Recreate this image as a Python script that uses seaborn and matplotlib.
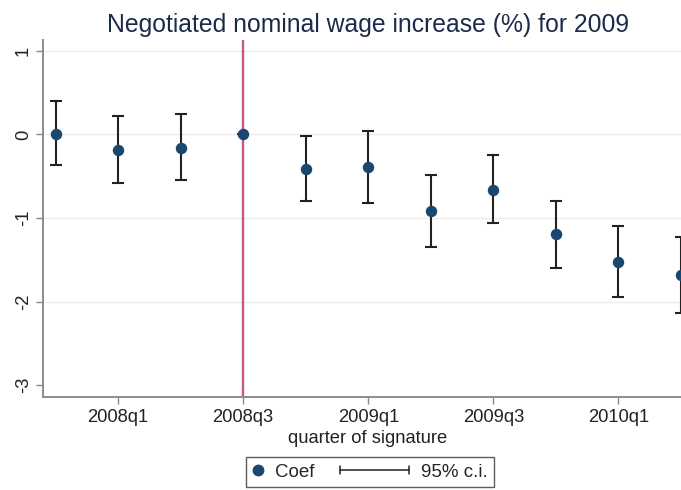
import pandas as pd
import matplotlib
matplotlib.use('Agg')
import matplotlib.pyplot as plt
from matplotlib.lines import Line2D
from matplotlib.legend_handler import HandlerBase
import seaborn as sns
import numpy as np

# quarter of signature and estimated coefficients with 95% c.i.
quarters = ['2007q4', '2008q1', '2008q2', '2008q3', '2008q4', '2009q1',
            '2009q2', '2009q3', '2009q4', '2010q1', '2010q2']
coef = [0.01, -0.18, -0.16, 0.00, -0.41, -0.39, -0.91, -0.66, -1.19, -1.52, -1.68]
ci_hi = [0.40, 0.22, 0.24, 0.00, -0.02, 0.04, -0.48, -0.25, -0.79, -1.09, -1.23]
ci_lo = [-0.37, -0.58, -0.55, 0.00, -0.80, -0.82, -1.34, -1.06, -1.60, -1.94, -2.13]
tick_quarters = ['2008q1', '2008q3', '2009q1', '2009q3', '2010q1']
ref_quarter = '2008q3'

df = pd.DataFrame({'quarter': quarters, 'coef': coef, 'lo': ci_lo, 'hi': ci_hi})
df['pos'] = np.arange(len(df))

sns.set_style('white')
plt.rcParams['font.family'] = ['Liberation Sans', 'DejaVu Sans']

navy = '#1a476f'
fig = plt.figure(figsize=(6.81, 4.90), dpi=100)
ax = fig.add_axes([43/681, 93/490, 1 - 43/681, (397-40)/490])

# reference quarter line
ref_pos = quarters.index(ref_quarter)
ax.axvline(ref_pos, color='#c25a86', lw=1.7, zorder=1)

# confidence intervals
ax.errorbar(df['pos'], df['coef'],
            yerr=[df['coef'] - df['lo'], df['hi'] - df['coef']],
            fmt='none', ecolor='#222222', elinewidth=1.5, capsize=4.5,
            capthick=1.5, zorder=2)
sns.scatterplot(x='pos', y='coef', data=df, color=navy, s=68, edgecolor=navy,
                linewidth=0, zorder=3, ax=ax, legend=False)

ax.set_xlim(-0.2, 10.0)
ax.set_ylim(-3.14, 1.13)
ax.set_xticks([quarters.index(q) for q in tick_quarters])
ax.set_xticklabels(tick_quarters)
ax.set_yticks([1, 0, -1, -2, -3])
ax.set_yticklabels(['1', '0', '-1', '-2', '-3'], rotation=90, va='center')
ax.set_xlabel('')
ax.set_ylabel('')
ax.tick_params(axis='both', direction='out', length=5, width=1, color='#888888',
               labelsize=13.2, labelcolor='#222222')
ax.tick_params(axis='x', bottom=True, pad=3.5)
ax.tick_params(axis='y', left=True, pad=3)

ax.grid(axis='y', color='#ececec', lw=1)
ax.get_ygridlines()[-1].set_visible(False)
ax.set_axisbelow(True)
for s in ['top', 'right']:
    ax.spines[s].set_visible(False)
for s in ['left', 'bottom']:
    ax.spines[s].set_color('#8c8c8c')
    ax.spines[s].set_linewidth(1.4)

# title and axis label centred on the original plot region
cx = 368/681
fig.text(cx, 1 - 32/490, 'Negotiated nominal wage increase (%) for 2009',
         ha='center', va='baseline', fontsize=17.8, color='#1c2b4a')
fig.text(cx, 1 - 443/490, 'quarter of signature', ha='center', va='baseline',
         fontsize=13.2, color='#222222')


class CIHandler(HandlerBase):
    # horizontal capped line reaching back into the column gap
    def create_artists(self, legend, orig_handle, xdescent, ydescent,
                       width, height, fontsize, trans):
        y = height / 2 - ydescent
        x1 = -xdescent + width
        x0 = x1 - 3.68 * fontsize
        h = 0.22 * fontsize
        parts = [Line2D([x0, x1], [y, y]),
                 Line2D([x0, x0], [y - h, y + h]),
                 Line2D([x1, x1], [y - h, y + h])]
        for p in parts:
            p.set_color('#222222')
            p.set_linewidth(1.1)
            p.set_transform(trans)
        return parts


dot = Line2D([], [], ls='none', marker='o', color=navy, markersize=7.5)
ci = Line2D([], [])
leg = fig.legend([dot, ci], ['Coef', '95% c.i.'], loc='upper center',
                 bbox_to_anchor=(370/681, 1 - 457/490), ncol=2, fontsize=13.5,
                 handlelength=0.55, handletextpad=0.64, columnspacing=4.5,
                 borderpad=0.35, borderaxespad=0, frameon=True, fancybox=False,
                 handler_map={ci: CIHandler()})
leg.get_frame().set_edgecolor('#333333')
leg.get_frame().set_linewidth(1.0)

plt.savefig('out.png', dpi=100)
